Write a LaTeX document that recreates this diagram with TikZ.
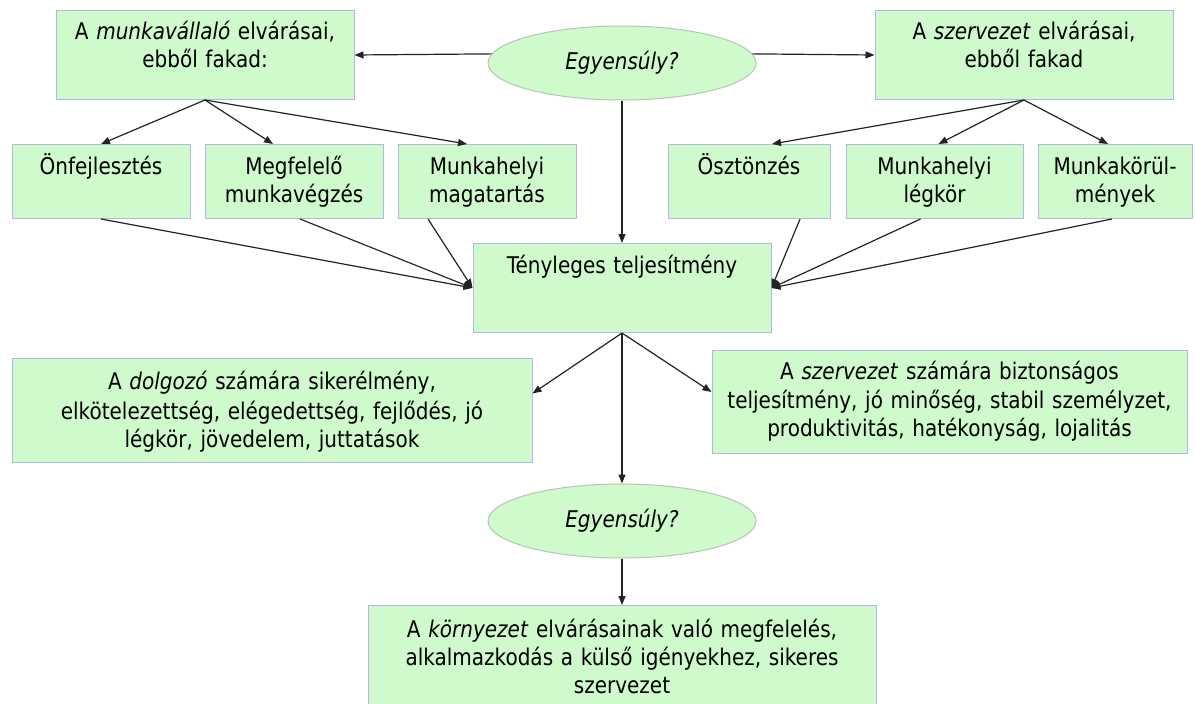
\documentclass[tikz,border=0pt]{standalone}
\usepackage{fontspec}
\setmainfont{DejaVu Sans}[FakeStretch=0.87]
\usetikzlibrary{arrows.meta,shapes.geometric}

\definecolor{boxfill}{RGB}{206,250,204}
\definecolor{boxline}{RGB}{182,182,226}
\definecolor{ellline}{RGB}{178,198,178}
\definecolor{arrowcol}{RGB}{35,35,35}

\tikzset{
  gbox/.style={rectangle, draw=boxline, fill=boxfill, line width=1pt, inner sep=0pt},
  gtext/.style={anchor=base, align=center, inner sep=0pt, font=\fontsize{23}{28}\selectfont},
  gell/.style={ellipse, draw=ellline, fill=boxfill, line width=1pt,
    minimum width=268pt, minimum height=74pt, inner sep=0pt,
    font=\fontsize{23}{28}\selectfont\itshape},
  conn/.style={draw=arrowcol, line width=1.2pt, -{Triangle[length=9pt,width=7pt]}},
}

% name, centre x, top y, width, height, first baseline below top, text
\newcommand\greenbox[7]{%
  \node[gbox, anchor=north, minimum width=#4pt, minimum height=#5pt] (#1) at (#2,#3) {};
  \node[gtext, text width=#4pt] (#1-t) at ([yshift=-#6pt]#1.north) {#7};
}

\begin{document}
\begin{tikzpicture}[x=1pt, y=-1pt]
\useasboundingbox (0,0) rectangle (1195,704);
\clip (0,0) rectangle (1195,704);

% expectations of the two sides
\greenbox{b1}{205}{10}{298}{89}{29}{A \textit{munkavállaló} elvárásai,\\ ebből fakad:}
\greenbox{b2}{1024}{10}{298}{89}{29}{A \textit{szervezet} elvárásai,\\ ebből fakad}
\node[gell] (e1) at (622,63) {Egyensúly?};

% what follows from them
\greenbox{r1}{101}{144}{178}{74}{30}{Önfejlesztés}
\greenbox{r2}{294}{144}{178}{74}{30}{Megfelelő\\ munkavégzés}
\greenbox{r3}{487}{144}{178}{74}{30}{Munkahelyi\\ magatartás}
\greenbox{r4}{749}{144}{162}{74}{30}{Ösztönzés}
\greenbox{r5}{934.5}{144}{177}{74}{30}{Munkahelyi\\ légkör}
\greenbox{r6}{1115}{144}{154}{74}{30}{Munkakörül-\\ mények}

% performance and its results
\greenbox{t}{622}{243}{298}{89}{30}{Tényleges teljesítmény}
\greenbox{d}{272}{358}{520}{104}{31}{\fontsize{23}{30}\selectfont A \textit{dolgozó} számára sikerélmény,\\ elkötelezettség, elégedettség, fejlődés, jó\\ légkör, jövedelem, juttatások}
\greenbox{s}{949.5}{350}{475}{103}{29}{\fontsize{23}{29.5}\selectfont A \textit{szervezet} számára biztonságos\\ teljesítmény, jó minőség, stabil személyzet,\\ produktivitás, hatékonyság, lojalitás}
\node[gell] (e2) at (622,521) {Egyensúly?};
\greenbox{k}{622}{605}{508}{110}{32}{A \textit{környezet} elvárásainak való megfelelés,\\ alkalmazkodás a külső igényekhez, sikeres\\ szervezet}

% connectors
\draw[conn] (e1.176) -- (b1.east);
\draw[conn] (e1.4) -- (b2.west);
\draw[conn] (e1.south) -- (t.north);

\draw[conn] (b1.south) -- (r1.north);
\draw[conn] (b1.south) -- ([xshift=-21pt]r2.north);
\draw[conn] (b1.south) -- ([xshift=-20pt]r3.north);
\draw[conn] (b2.south) -- ([xshift=23pt]r4.north);
\draw[conn] (b2.south) -- ([xshift=4pt]r5.north);
\draw[conn] (b2.south) -- ([xshift=-7pt]r6.north);

\draw[conn] (r1.south) -- (t.west);
\draw[conn] ([xshift=6pt]r2.south) -- (t.west);
\draw[conn] ([xshift=-59pt]r3.south) -- (t.west);
\draw[conn] ([xshift=51pt]r4.south) -- (t.east);
\draw[conn] ([xshift=-14pt]r5.south) -- (t.east);
\draw[conn] ([xshift=-3pt]r6.south) -- (t.east);

\draw[conn] (t.south) -- ([yshift=17pt]d.east);
\draw[conn] (t.south) -- ([yshift=10pt]s.west);
\draw[conn] (t.south) -- (e2.north);
\draw[conn] (e2.south) -- (k.north);
\end{tikzpicture}
\end{document}
